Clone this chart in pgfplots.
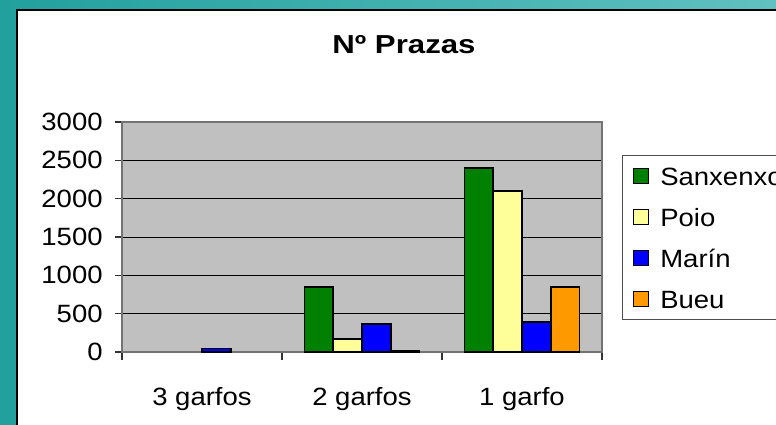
\documentclass[border=0pt]{standalone}
\usepackage{pgfplots}
\pgfplotsset{compat=1.18}
\usepackage{fontspec}
\setmainfont[FakeStretch=1.1]{Liberation Sans}
\newfontfamily\titlefont[FakeStretch=1.2]{Liberation Sans}

\definecolor{cSan}{RGB}{0,128,0}
\definecolor{cPoio}{RGB}{255,255,153}
\definecolor{cMarin}{RGB}{0,0,255}
\definecolor{cBueu}{RGB}{255,153,0}
\definecolor{plotbg}{RGB}{192,192,192}
\definecolor{tealL}{RGB}{33,160,158}
\definecolor{tealR}{RGB}{96,193,192}

\begin{document}
\begin{tikzpicture}
\useasboundingbox (0,0) rectangle (388pt,212pt);
\clip (0,0) rectangle (388pt,212pt);
\shade[left color=tealL, right color=tealR] (0,0) rectangle (388pt,212pt);
\draw[black, line width=1.25pt, fill=white] (8.5pt,-10pt) rectangle (400pt,207pt);
\node[font=\titlefont\bfseries\fontsize{13}{15.6}\selectfont, anchor=base, inner sep=0pt] at (202pt,185.5pt) {Nº Prazas};
\begin{axis}[
  at={(61pt,36pt)}, anchor=south west,
  scale only axis, width=240pt, height=115pt,
  xmin=-0.5, xmax=2.5, ymin=0, ymax=3000,
  ybar=0pt, bar width=0.18,
  axis background/.style={fill=plotbg},
  axis line style={draw=black!55, line width=0.6pt},
  xtick={0,1,2}, xticklabels={3 garfos,2 garfos,1 garfo},
  minor xtick={-0.5,0.5,1.5,2.5},
  ytick={0,500,...,3000},
  xtick pos=bottom, ytick pos=left,
  ymajorgrids, grid style={black, line width=0.5pt},
  tick align=outside,
  major tick length=3.5pt, minor tick length=4pt,
  major x tick style={draw=none},
  every tick/.style={black!80, line width=0.6pt},
  /pgf/number format/assume math mode=true,
  /pgf/number format/1000 sep={},
  tick label style={font=\fontsize{12.5}{15}\selectfont},
  xticklabel style={anchor=north, inner sep=0pt, text height=9pt, text depth=2.5pt, yshift=-14pt},
  yticklabel style={anchor=east, inner sep=0pt, xshift=-6pt},
  legend style={at={(1.04167,0.85652)}, anchor=north west, draw=black!70, line width=0.5pt, fill=white,
    inner xsep=5pt, inner ysep=5.75pt, row sep=11.5pt, column sep=0pt,
    font=\fontsize{12.5}{15}\selectfont,
    nodes={inner xsep=5.5pt, inner ysep=0pt, text height=9pt, text depth=0pt}},
  legend cell align=left,
  legend image code/.code={\draw[#1, draw=black, line width=0.6pt] (0pt,-3.9pt) rectangle (7.8pt,3.9pt);},
]
\addplot[fill=cSan, draw=black, line width=0.75pt] coordinates {(1,850) (2,2400)};
\addplot[fill=cPoio, draw=black, line width=0.75pt] coordinates {(1,170) (2,2100)};
\addplot[fill=cMarin, draw=black, line width=0.75pt] coordinates {(0,45) (1,365) (2,390)};
\addplot[fill=cBueu, draw=black, line width=0.75pt] coordinates {(1,20) (2,850)};
\legend{Sanxenxo, Poio, Marín, Bueu}
\end{axis}
\end{tikzpicture}
\end{document}
